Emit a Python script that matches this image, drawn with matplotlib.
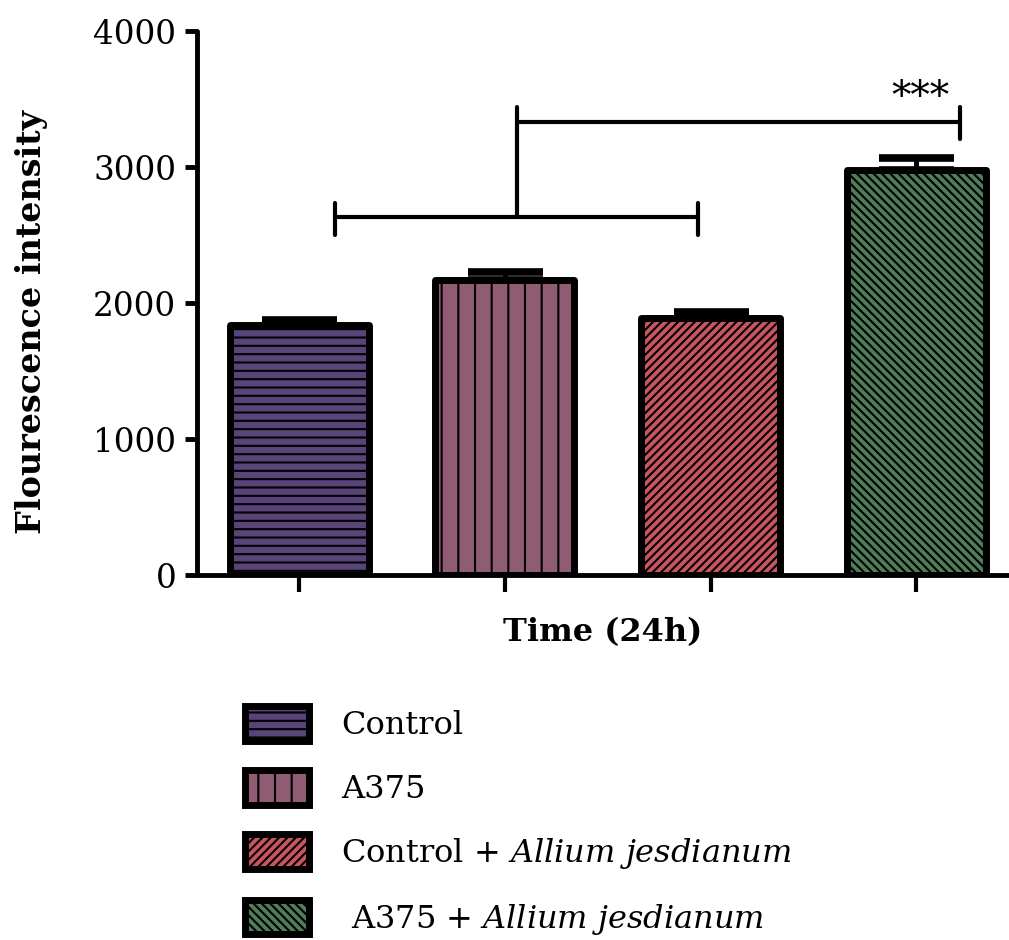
import matplotlib
matplotlib.use("Agg")
import matplotlib.pyplot as plt

# data
groups = ["Control", "A375", "Control + $\\it{Allium\\ jesdianum}$",
          " A375 + $\\it{Allium\\ jesdianum}$"]
means = [1835, 2170, 1890, 2975]
errors = [40, 60, 45, 90]
colors = ["#584478", "#8f5c73", "#c8555f", "#507d5a"]
hatches = ["--", "|", "////", "\\\\\\\\"]
yticks = [0, 1000, 2000, 3000, 4000]

# significance bracket (x in bar units, y in data units)
low_x = [0.175, 1.94]
low_y = 2632
low_tick = [2500, 2735]
mid_x = 1.06
high_x = 3.21
high_y = 3331
high_top = 3441
high_tick = [3206, 3441]
star_pos = (3.02, 3510)

plt.rcParams["font.family"] = "DejaVu Serif"
plt.rcParams["mathtext.fontset"] = "dejavuserif"
plt.rcParams["hatch.linewidth"] = 1.5

fig = plt.figure(figsize=(10.09, 9.40), dpi=100)
ax = fig.add_axes([197 / 1009, (940 - 575) / 940, 1 - 197 / 1009, (575 - 31) / 940])

x = list(range(len(means)))
bars = ax.bar(x, means, width=0.676, color=colors, edgecolor="black",
              linewidth=5, hatch=hatches, label=groups)
for b in bars:
    b.set_joinstyle("round")

ax.errorbar(x, means, yerr=[[0] * len(errors), errors], fmt="none",
            ecolor="black", elinewidth=3.5, capsize=27, capthick=5.5, zorder=1)

lw_br = 3
kw = dict(color="black", lw=lw_br, solid_capstyle="round", clip_on=False)
ax.plot(low_x, [low_y, low_y], **kw)
for xx in low_x:
    ax.plot([xx, xx], low_tick, **kw)
ax.plot([mid_x, mid_x], [low_y, high_top], **kw)
ax.plot([mid_x, high_x], [high_y, high_y], **kw)
ax.plot([high_x, high_x], high_tick, **kw)
ax.text(star_pos[0], star_pos[1], "***", ha="center", va="center", fontsize=28)

ax.set_xlim(-0.496, 3.45)
ax.set_ylim(0, 4000)
ax.set_yticks(yticks)
ax.set_xticks(x)
ax.set_xticklabels([])
ax.tick_params(axis="y", length=9, width=3.5, labelsize=23.5, pad=6)
ax.tick_params(axis="x", length=12, width=3, direction="out")
for s in ["top", "right"]:
    ax.spines[s].set_visible(False)
for s in ["left", "bottom"]:
    ax.spines[s].set_linewidth(3.5)
    ax.spines[s].set_capstyle("round")

ax.set_ylabel("Flourescence intensity", fontsize=24, fontweight="bold")
ax.yaxis.set_label_coords(-0.184, 0.465)
ax.set_xlabel("Time (24h)", fontsize=23, fontweight="bold", labelpad=15)

leg = fig.legend(handles=bars, labels=groups, loc="upper left",
                 bbox_to_anchor=(245 / 1009, 1 - 706 / 940), frameon=False,
                 fontsize=23, handlelength=2.0, handleheight=1.3,
                 handletextpad=1.0, labelspacing=0.9, borderpad=0,
                 borderaxespad=0)

fig.savefig("out.png", dpi=100)
